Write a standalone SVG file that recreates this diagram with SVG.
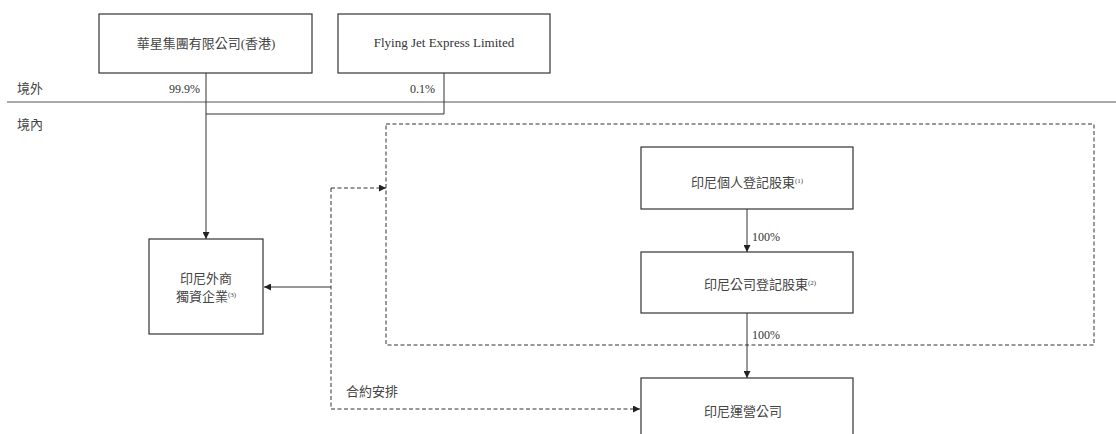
<svg xmlns="http://www.w3.org/2000/svg" width="1116" height="434" viewBox="0 0 1116 434">
<defs>
<marker id="ah" viewBox="0 0 8 8" refX="8" refY="4" markerWidth="7" markerHeight="7" markerUnits="userSpaceOnUse" orient="auto">
<path d="M0,0 L8,4 L0,8 Z" fill="#222"/>
</marker>
<style>
.box{fill:#fff;stroke:#333;stroke-width:1.2}
.t{font-family:"Liberation Serif","Noto Sans CJK TC",serif;font-size:13px;fill:#444}
.e{font-family:"Liberation Serif","Noto Sans CJK TC",serif;font-size:12px;fill:#333}
.en{font-size:13px}
.sup{font-size:7px}
.ln{fill:none;stroke:#333;stroke-width:1}
.dash{fill:none;stroke:#333;stroke-width:1;stroke-dasharray:4,2.5}
</style>
</defs>
<rect width="1116" height="434" fill="#fff"/>

<g id="labels">
<text class="t" x="17" y="93">境外</text>
<text class="t" x="17" y="129">境內</text>
<text class="e" x="200" y="93" text-anchor="end">99.9%</text>
<text class="e" x="435" y="93" text-anchor="end">0.1%</text>
<text class="t" x="346" y="396">合約安排</text>
</g>

<g id="connectors">
<line class="ln" x1="7" y1="102" x2="1116" y2="102" stroke-width="1.3" style="stroke:#555"/>
<polyline class="ln" points="444,73 444,114 206,114"/>
<line class="ln" x1="206" y1="73" x2="206" y2="239" marker-end="url(#ah)"/>
<line class="ln" x1="331" y1="287" x2="264" y2="287" marker-end="url(#ah)"/>
<polyline class="dash" points="331,188 331,409 640,409" marker-end="url(#ah)"/>
<line class="dash" x1="331" y1="188" x2="386" y2="188" marker-end="url(#ah)"/>
<line class="ln" x1="747" y1="209" x2="747" y2="252" marker-end="url(#ah)"/>
<text class="e" x="752" y="241">100%</text>
<line class="ln" x1="747" y1="313" x2="747" y2="378" marker-end="url(#ah)"/>
<text class="e" x="752" y="339">100%</text>
</g>

<g id="dashed-group">
<rect class="dash" x="386" y="124" width="708" height="221"/>
</g>

<g id="node-huaxing">
<rect class="box" x="99" y="14" width="213" height="59"/>
<text class="t" x="206" y="48" text-anchor="middle">華星集團有限公司(香港)</text>
</g>

<g id="node-flyingjet">
<rect class="box" x="338" y="14" width="212" height="59"/>
<text class="e en" x="444" y="47" text-anchor="middle">Flying Jet Express Limited</text>
</g>

<g id="node-wfoe">
<rect class="box" x="149" y="239" width="114" height="95"/>
<text class="t" x="206" y="283" text-anchor="middle">印尼外商</text>
<text class="t" x="206" y="301" text-anchor="middle">獨資企業<tspan class="sup" dy="-4">(3)</tspan></text>
</g>

<g id="node-individual">
<rect class="box" x="641" y="147" width="212" height="62"/>
<text class="t" x="747" y="187" text-anchor="middle">印尼個人登記股東<tspan class="sup" dy="-4">(1)</tspan></text>
</g>

<g id="node-corporate">
<rect class="box" x="641" y="252" width="212" height="61"/>
<text class="t" x="760" y="289" text-anchor="middle">印尼公司登記股東<tspan class="sup" dy="-4">(2)</tspan></text>
</g>

<g id="node-opco">
<rect class="box" x="641" y="378" width="212" height="70"/>
<text class="t" x="743" y="416" text-anchor="middle">印尼運營公司</text>
</g>
</svg>
